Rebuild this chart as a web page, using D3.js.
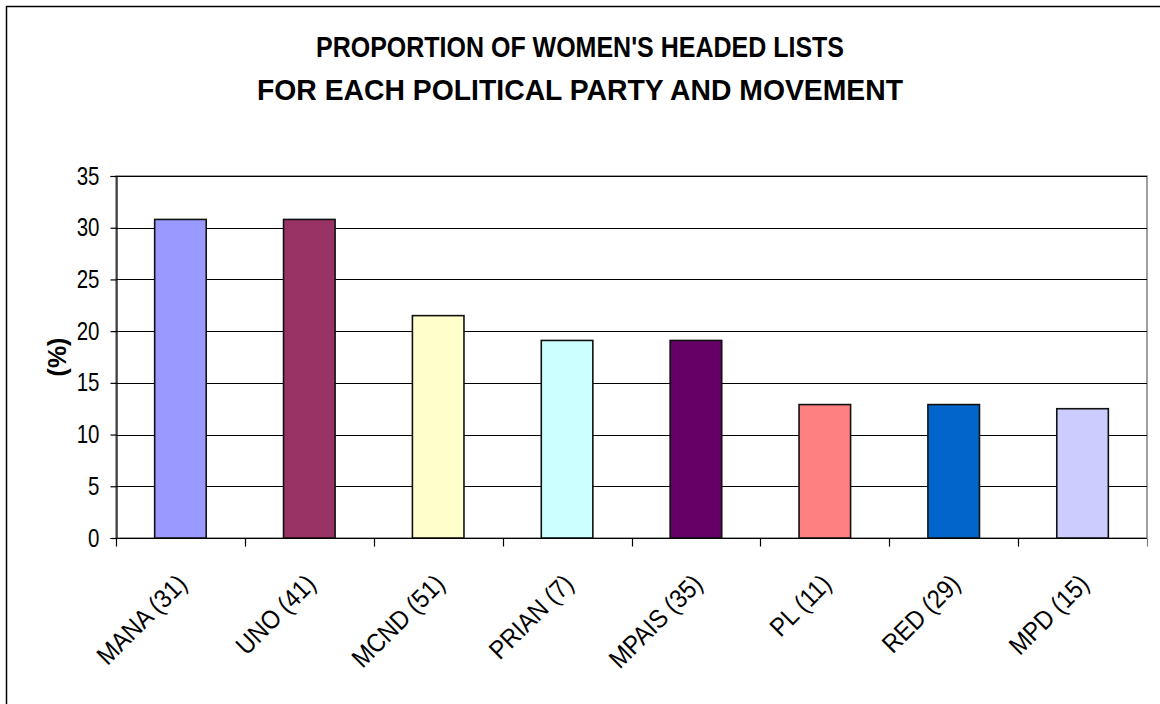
<!DOCTYPE html>
<html>
<head>
<meta charset="utf-8">
<script src="https://cdn.jsdelivr.net/npm/d3@7/dist/d3.min.js"></script>
<style>
  body { margin: 0; background: #fff; }
  text { font-family: 'Liberation Sans', Arial, sans-serif; }
</style>
</head>
<body>
<svg id="chart" width="1160" height="704"></svg>
<script>
const parties = ['MANA (31)', 'UNO (41)', 'MCND (51)', 'PRIAN (7)', 'MPAIS (35)', 'PL (11)', 'RED (29)', 'MPD (15)']
const shares = [30.8, 30.8, 21.5, 19.1, 19.1, 12.9, 12.9, 12.5]
const barColors = ['#9999ff', '#993366', '#ffffcc', '#ccffff', '#660066', '#ff8080', '#0066cc', '#ccccff']
const yTicks = [0, 5, 10, 15, 20, 25, 30, 35]
const titleLines = ["PROPORTION OF WOMEN'S HEADED LISTS", 'FOR EACH POLITICAL PARTY AND MOVEMENT']

const plotLeft = 116, plotRight = 1147, plotTop = 176, plotBottom = 538

const svg = d3.select('#chart')

// chart frame
svg.append('rect')
  .attr('x', 6.5).attr('y', 6.5)
  .attr('width', 1200).attr('height', 800)
  .attr('fill', '#fff').attr('stroke', '#000').attr('stroke-width', 1.5)

const x = d3.scaleBand().domain(parties).range([plotLeft, plotRight]).paddingInner(0.6).paddingOuter(0.3)
const xCat = d3.scaleBand().domain(parties).range([plotLeft, plotRight])
const y = d3.scaleLinear().domain([0, 35]).range([plotBottom, plotTop])

// plot area border (grey)
svg.append('rect')
  .attr('x', plotLeft).attr('y', plotTop)
  .attr('width', plotRight - plotLeft).attr('height', plotBottom - plotTop)
  .attr('fill', 'none').attr('stroke', '#808080').attr('stroke-width', 1.5)

// gridlines
svg.append('g')
  .selectAll('line')
  .data(yTicks.filter(d => d > 0))
  .join('line')
  .attr('x1', plotLeft).attr('x2', plotRight)
  .attr('y1', d => Math.round(y(d)) + 0.5).attr('y2', d => Math.round(y(d)) + 0.5)
  .attr('stroke', '#000').attr('stroke-width', 1.2)

// bars
svg.append('g')
  .selectAll('rect')
  .data(parties)
  .join('rect')
  .attr('x', d => x(d))
  .attr('y', (d, i) => y(shares[i]))
  .attr('width', x.bandwidth())
  .attr('height', (d, i) => plotBottom - y(shares[i]))
  .attr('fill', (d, i) => barColors[i])
  .attr('stroke', '#111').attr('stroke-width', 1.6)

// y axis
const yAxis = svg.append('g')
  .attr('transform', `translate(${plotLeft + 0.5},0)`)
  .call(d3.axisLeft(y).tickValues(yTicks).tickSize(6).tickPadding(11))
yAxis.select('.domain').attr('stroke', '#000').attr('stroke-width', 1.2)
yAxis.selectAll('.tick line').attr('stroke', '#000').attr('stroke-width', 1.2)
// narrow look: squeeze labels horizontally
yAxis.selectAll('.tick text')
  .attr('font-size', 25).attr('fill', '#000')
  .attr('x', null)
  .attr('transform', 'translate(-17,0) scale(0.82,1)')
  .style('font-family', "'Liberation Sans', Arial, sans-serif")

// x axis: ticks at category boundaries
const xAxis = svg.append('g')
  .attr('transform', `translate(0,${plotBottom + 0.5})`)
xAxis.append('line')
  .attr('x1', plotLeft).attr('x2', plotRight)
  .attr('stroke', '#000').attr('stroke-width', 1.2)
xAxis.selectAll('.btick')
  .data(parties.concat(['end']))
  .join('line')
  .attr('class', 'btick')
  .attr('x1', (d, i) => Math.round(plotLeft + i * xCat.bandwidth()) + 0.5)
  .attr('x2', (d, i) => Math.round(plotLeft + i * xCat.bandwidth()) + 0.5)
  .attr('y1', 0).attr('y2', 8)
  .attr('stroke', (d, i) => i === parties.length ? '#808080' : '#000').attr('stroke-width', 1.2)

xAxis.selectAll('.xlab')
  .data(parties)
  .join('text')
  .attr('class', 'xlab')
  .attr('text-anchor', 'end')
  .attr('font-size', 26)
  .attr('fill', '#000')
  .attr('transform', d => `translate(${xCat(d) + xCat.bandwidth() / 2 + 8},${47}) rotate(-45) scale(0.9,1)`)
  .text(d => d)

// y label
svg.append('text')
  .attr('transform', `translate(66,${(plotTop + plotBottom) / 2}) rotate(-90)`)
  .attr('text-anchor', 'middle')
  .attr('font-size', 25)
  .attr('font-weight', 'bold')
  .text('(%)')

// title
svg.append('g')
  .selectAll('text')
  .data(titleLines)
  .join('text')
  .attr('x', 580)
  .attr('y', (d, i) => 57 + i * 43)
  .attr('text-anchor', 'middle')
  .attr('font-size', 30)
  .attr('font-weight', 'bold')
  .attr('textLength', (d, i) => i === 0 ? 528 : 646)
  .attr('lengthAdjust', 'spacingAndGlyphs')
  .text(d => d)
</script>
</body>
</html>
